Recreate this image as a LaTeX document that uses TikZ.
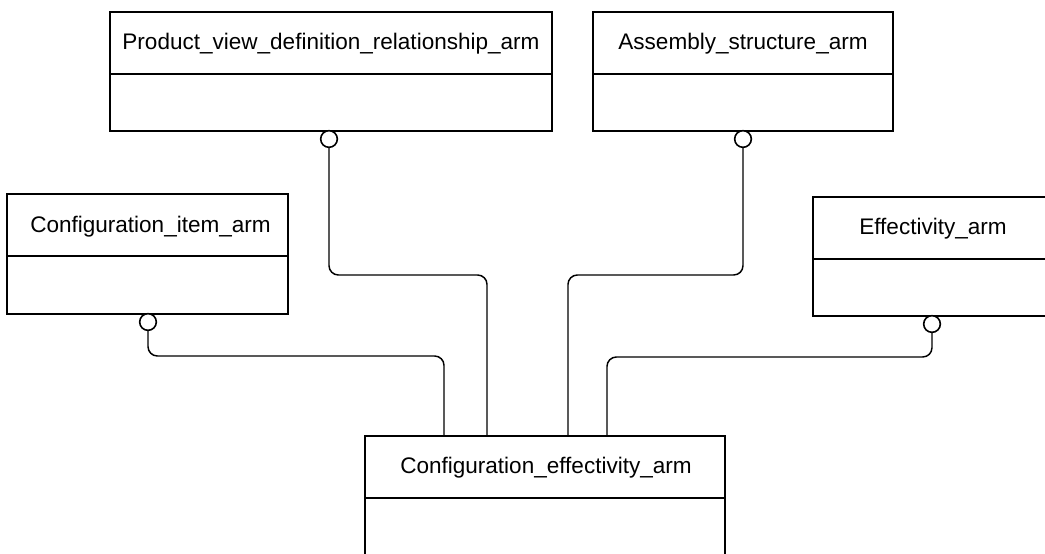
\documentclass[tikz,border=0pt]{standalone}
\usepackage{fontspec}
\setmainfont{Liberation Sans}
\usetikzlibrary{calc}
\begin{document}
\begin{tikzpicture}[x=0.75pt,y=-0.75pt,
  box/.style 2 args={draw, line width=1.5pt, rectangle, inner sep=0pt, outer sep=0pt,
    anchor=north west, minimum width=#1*0.75pt, minimum height=#2*0.75pt},
  divider/.style={line width=1.5pt},
  title/.style={anchor=base, inner sep=0pt, font=\fontsize{16.9pt}{20pt}\selectfont},
  ring/.style={draw, circle, fill=white, line width=1.2pt, minimum size=12.5pt, inner sep=0pt, outer sep=0pt},
  conn/.style={line width=1.1pt, rounded corners=7pt}]
\path[use as bounding box] (0,0) rectangle (1045,553);
\clip (0,0) rectangle (1045,553);
% boxes
\node[box={442}{119}] (b1) at (110,12) {};
\node[box={300}{119}] (b2) at (593,12) {};
\node[box={281}{120}] (b3) at (7,194) {};
\node[box={240}{119}] (b4) at (813,197) {};
\node[box={360}{140}] (b5) at (365,436) {};
% dividers
\foreach \b in {b1,b2,b3,b4,b5}{
  \draw[divider] ($(\b.north west)+(0,62)$) -- ($(\b.north east)+(0,62)$);
}
% titles
\node[title] (t1) at ($(b1.north)+(0,37)$) {Product\_view\_definition\_relationship\_arm};
\node[title] (t2) at ($(b2.north)+(0,37)$) {Assembly\_structure\_arm};
\node[title] (t3) at ($(b3.north)+(3,38)$) {Configuration\_item\_arm};
\node[title] (t4) at ($(b4.north)+(0,37)$) {Effectivity\_arm};
\node[title] (t5) at ($(b5.north)+(1,37)$) {Configuration\_effectivity\_arm};
% rings
\node[ring] (c1) at (329,139) {};
\node[ring] (c2) at (743,139) {};
\node[ring] (c3) at (148,322) {};
\node[ring] (c4) at (932,324) {};
% bend points
\coordinate (k1) at (487,275);
\coordinate (k2) at (568,275);
\coordinate (k3) at (444,356);
\coordinate (k4) at (607,357);
% connectors
\draw[conn] (c1.south) |- (k1) -- (k1 |- b5.north);
\draw[conn] (c2.south) |- (k2) -- (k2 |- b5.north);
\draw[conn] (c3.south) |- (k3) -- (k3 |- b5.north);
\draw[conn] (c4.south) |- (k4) -- (k4 |- b5.north);
\end{tikzpicture}
\end{document}
